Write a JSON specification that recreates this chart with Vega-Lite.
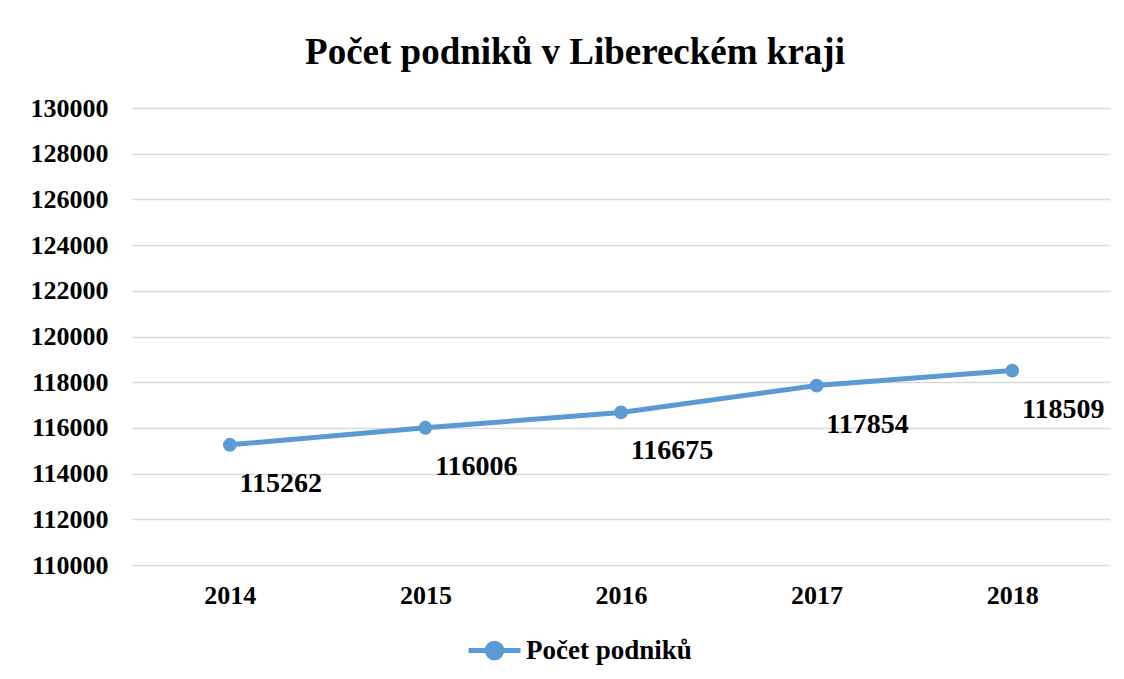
{
  "$schema": "https://vega.github.io/schema/vega-lite/v6.json",
  "autosize": "none",
  "width": 978,
  "height": 457,
  "padding": {"left": 132, "top": 108, "right": 14, "bottom": 114},
  "background": "white",
  "title": {
    "text": "Počet podniků v Libereckém kraji",
    "font": "Liberation Serif",
    "fontSize": 37,
    "fontWeight": "bold",
    "color": "#000000",
    "anchor": "middle",
    "frame": "group",
    "dx": -46,
    "offset": 23
  },
  "data": {
    "values": [
      {"rok": "2014", "pocet": 115262, "serie": "Počet podniků"},
      {"rok": "2015", "pocet": 116006, "serie": "Počet podniků"},
      {"rok": "2016", "pocet": 116675, "serie": "Počet podniků"},
      {"rok": "2017", "pocet": 117854, "serie": "Počet podniků"},
      {"rok": "2018", "pocet": 118509, "serie": "Počet podniků"}
    ]
  },
  "config": {
    "view": {"stroke": null},
    "font": "Liberation Serif"
  },
  "encoding": {
    "x": {
      "field": "rok",
      "type": "ordinal",
      "scale": {"type": "point", "padding": 0.5},
      "axis": {
        "title": null,
        "labelAngle": 0,
        "labelFont": "Liberation Serif",
        "labelFontSize": 26,
        "labelFontWeight": "bold",
        "labelColor": "#000000",
        "labelPadding": 17,
        "domain": false,
        "ticks": false,
        "grid": false
      }
    },
    "y": {
      "field": "pocet",
      "type": "quantitative",
      "scale": {"domain": [110000, 130000], "nice": false, "zero": false},
      "axis": {
        "title": null,
        "values": [110000, 112000, 114000, 116000, 118000, 120000, 122000, 124000, 126000, 128000, 130000],
        "format": "d",
        "labelFont": "Liberation Serif",
        "labelFontSize": 26,
        "labelFontWeight": "bold",
        "labelColor": "#000000",
        "labelPadding": 24,
        "domain": false,
        "ticks": false,
        "grid": true,
        "gridColor": "#d9d9d9",
        "gridWidth": 1.5
      }
    }
  },
  "layer": [
    {
      "mark": {"type": "line", "strokeWidth": 5, "color": "#5B9BD5", "strokeCap": "round"},
      "encoding": {
        "color": {
          "field": "serie",
          "type": "nominal",
          "scale": {"range": ["#5B9BD5"]},
          "legend": {
            "title": null,
            "orient": "none",
            "legendX": 334,
            "legendY": 514,
            "labelFont": "Liberation Serif",
            "labelFontSize": 27,
            "labelFontWeight": "bold",
            "labelColor": "#000000",
            "labelOffset": 3,
            "labelLimit": 500,
            "symbolType": "M-1,0H1M-0.28,0A0.28,0.28 0 1,0 0.28,0A0.28,0.28 0 1,0 -0.28,0",
            "symbolSize": 2704,
            "symbolStrokeWidth": 5,
            "symbolStrokeColor": "#5B9BD5",
            "symbolFillColor": "#5B9BD5"
          }
        }
      }
    },
    {
      "mark": {"type": "point", "filled": true, "size": 190, "color": "#5B9BD5", "opacity": 1}
    },
    {
      "mark": {
        "type": "text",
        "font": "Liberation Serif",
        "fontSize": 28,
        "fontWeight": "bold",
        "color": "#000000",
        "dx": 51,
        "dy": 39
      },
      "encoding": {
        "text": {"field": "pocet", "type": "quantitative", "format": "d"}
      }
    }
  ]
}
